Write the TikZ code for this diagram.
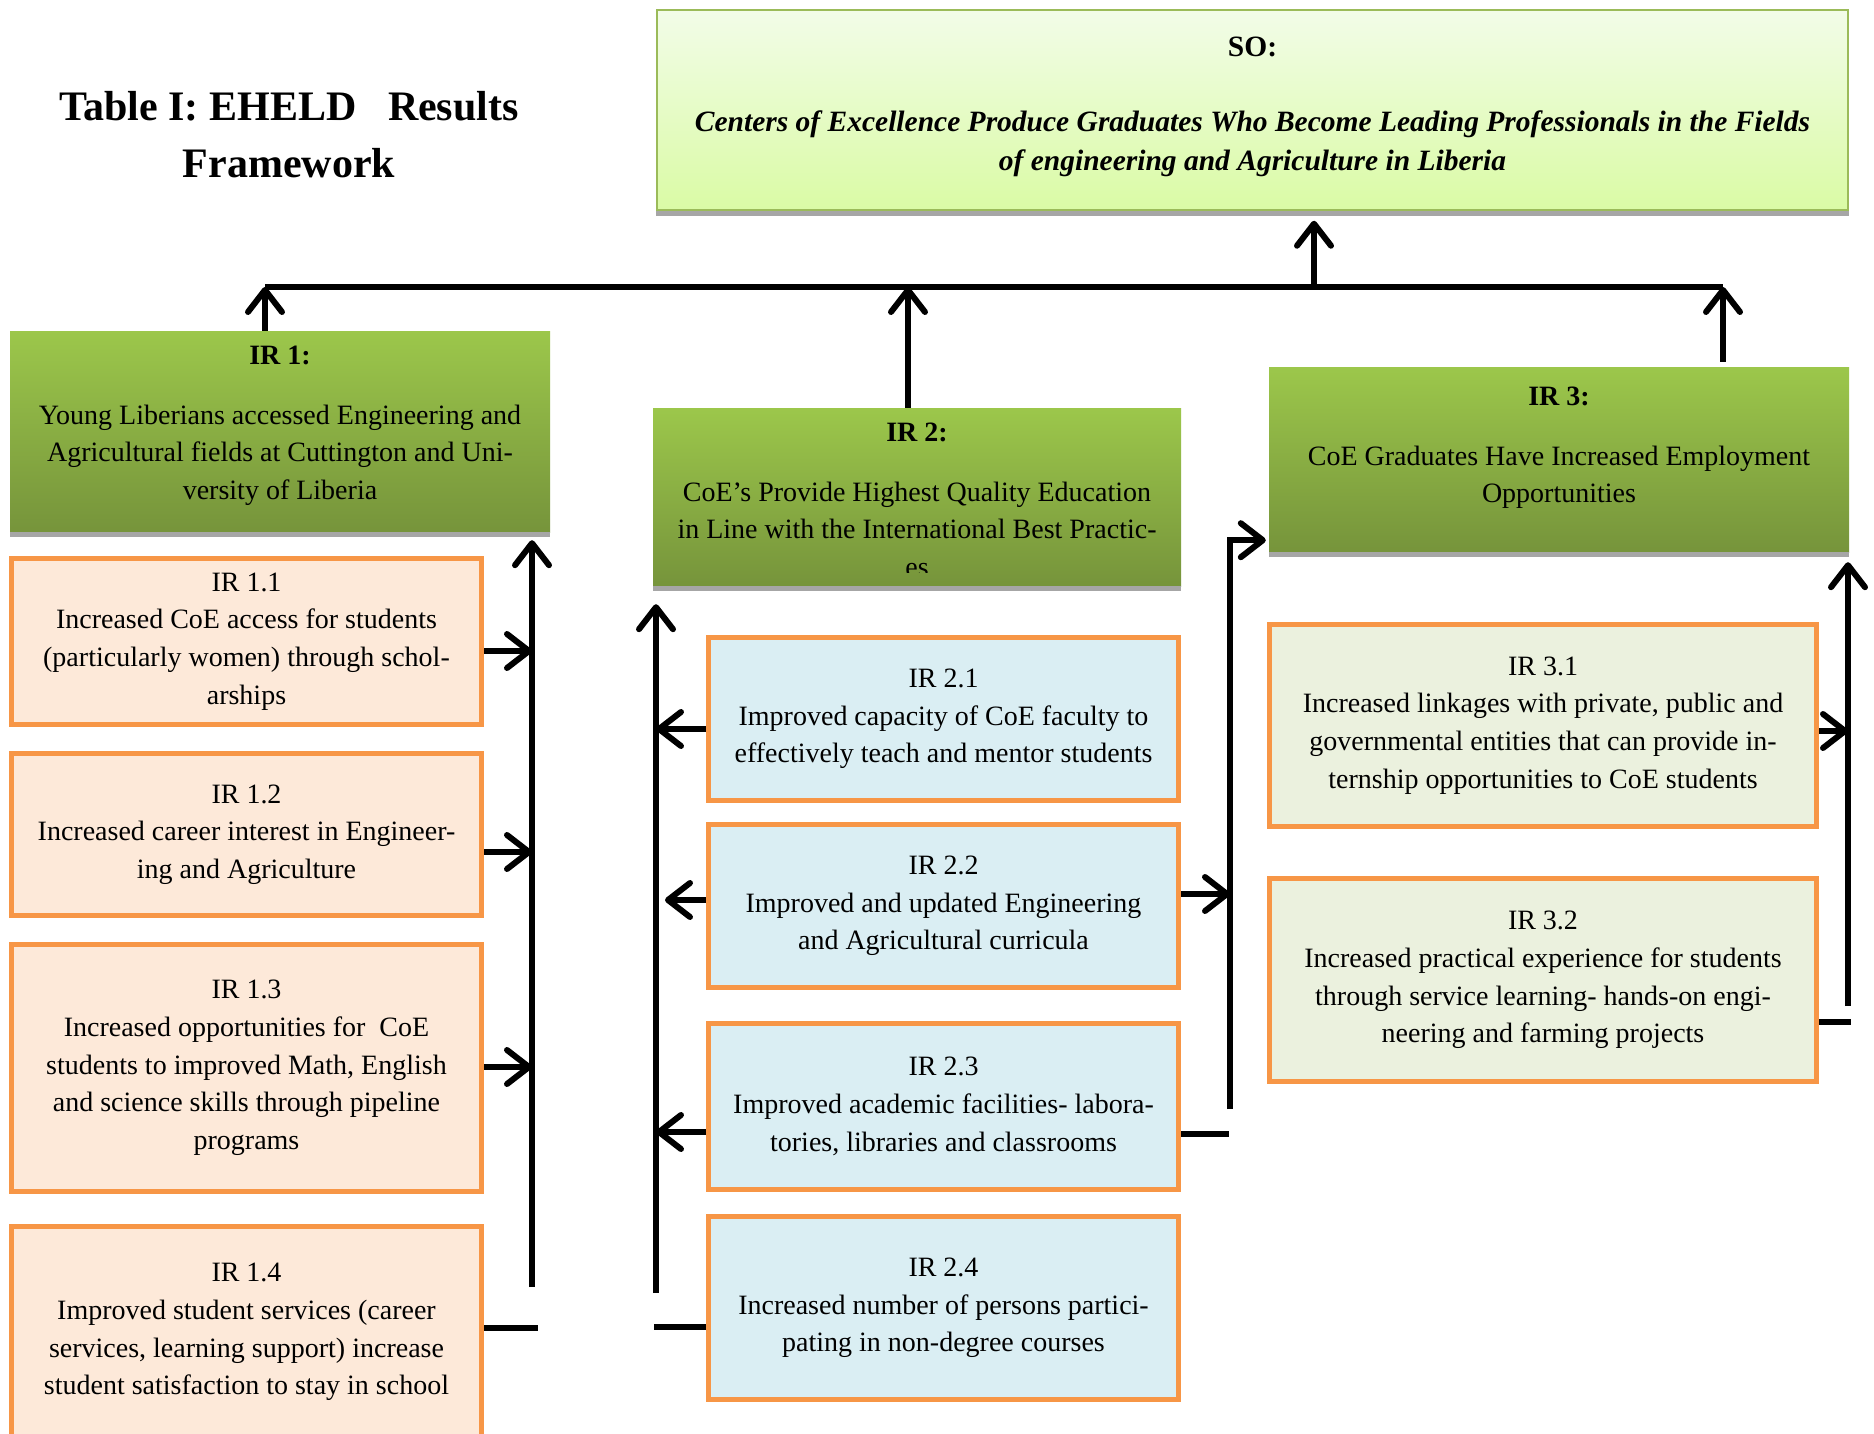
\documentclass[tikz,border=0pt]{standalone}
\usepackage{fontspec}
\setmainfont{Liberation Serif}
\usetikzlibrary{arrows.meta}
\definecolor{obrd}{HTML}{F79646}
\definecolor{peach}{HTML}{FDE9D9}
\definecolor{lblue}{HTML}{DAEEF3}
\definecolor{pgreen}{HTML}{EBF1DE}
\definecolor{htop}{HTML}{9CC74B}
\definecolor{hbot}{HTML}{76943B}
\definecolor{sotop}{HTML}{F2FCE8}
\definecolor{sobot}{HTML}{DAFBA5}
\definecolor{sobrd}{HTML}{9BBB59}
\definecolor{shad}{HTML}{A6A6A6}
\newcommand\bodyfnt{\fontsize{28}{37.7}\selectfont}
\newcommand\sofnt{\fontsize{29.5}{39}\selectfont}
\newcommand\titlefnt{\fontsize{42}{57}\selectfont\bfseries}
\begin{document}
\begin{tikzpicture}[x=1pt,y=-1pt,
  obox/.style={draw=obrd, line width=5pt, fill=peach, inner sep=0pt, align=center, font=\bodyfnt},
  bbox/.style={obox, fill=lblue},
  gbox/.style={obox, fill=pgreen},
  hbox/.style={top color=htop, bottom color=hbot, draw=none, inner sep=0pt},
  sobox/.style={top color=sotop, bottom color=sobot, draw=sobrd, line width=1.5pt, inner sep=0pt},
  htext/.style={anchor=north, inner sep=0pt, align=center, font=\bodyfnt},
  arr/.style={line width=6pt, -{Straight Barb[length=22pt,width=34pt,round]}},
  ln/.style={line width=6pt},
]
\fill[white] (0,0) rectangle (1874,1434);
\useasboundingbox (0,0) rectangle (1874,1434);

% title
\node[align=center, font=\titlefnt, inner sep=0pt] (title) at (289,135) {Table I: EHELD\ \ \ Results\\Framework};

% SO box
\node[sobox, minimum width=1191pt, minimum height=200pt] (so) at (1252.5,110) {};
\fill[shad] (so.south west) rectangle ([yshift=-5pt]so.south east);
\node[htext, font=\sofnt] (sot) at ([yshift=-28pt]so.north) {\textbf{SO:}\\[36pt]\textbf{\itshape Centers of Excellence Produce Graduates Who Become Leading Professionals in the Fields}\\\textbf{\itshape of engineering and Agriculture in Liberia}};

% IR headers
\node[hbox, minimum width=540pt, minimum height=201pt] (ir1) at (280,431.5) {};
\fill[shad] (ir1.south west) rectangle ([yshift=-5pt]ir1.south east);
\node[htext] (ir1t) at ([yshift=-15pt]ir1.north) {\textbf{IR 1:}\\[22pt]Young Liberians accessed Engineering and\\Agricultural fields at Cuttington and Uni-\\versity of Liberia};

\node[hbox, minimum width=528pt, minimum height=178pt] (ir2) at (917,497) {};
\fill[shad] (ir2.south west) rectangle ([yshift=-5pt]ir2.south east);
\begin{scope}
\clip (ir2.north west) rectangle ([yshift=14pt]ir2.south east);
\node[htext] (ir2t) at ([yshift=-15pt]ir2.north) {\textbf{IR 2:}\\[22pt]CoE’s Provide Highest Quality Education\\in Line with the International Best Practic-\\es};
\end{scope}

\node[hbox, minimum width=580pt, minimum height=185pt] (ir3) at (1559,459.5) {};
\fill[shad] (ir3.south west) rectangle ([yshift=-5pt]ir3.south east);
\node[htext] (ir3t) at ([yshift=-20pt]ir3.north) {\textbf{IR 3:}\\[22pt]CoE Graduates Have Increased Employment\\Opportunities};

% IR1.x
\node[obox, minimum width=470pt, minimum height=166pt] (ir11) at (246.5,641.5) {IR 1.1\\Increased CoE access for students\\(particularly women) through schol-\\arships};
\node[obox, minimum width=470pt, minimum height=162pt] (ir12) at (246.5,834.5) {IR 1.2\\Increased career interest in Engineer-\\ing and Agriculture};
\node[obox, minimum width=470pt, minimum height=247pt] (ir13) at (246.5,1068) {IR 1.3\\Increased opportunities for\ \ CoE\\students to improved Math, English\\and science skills through pipeline\\programs};
\node[obox, minimum width=470pt, minimum height=211pt] (ir14) at (246.5,1332) {IR 1.4\\Improved student services (career\\services, learning support) increase\\student satisfaction to stay in school};

% IR2.x
\node[bbox, minimum width=470pt, minimum height=163pt] (ir21) at (943.5,719) {IR 2.1\\Improved capacity of CoE faculty to\\effectively teach and mentor students};
\node[bbox, minimum width=470pt, minimum height=163pt] (ir22) at (943.5,906) {IR 2.2\\Improved and updated Engineering\\and Agricultural curricula};
\node[bbox, minimum width=470pt, minimum height=166pt] (ir23) at (943.5,1106.5) {IR 2.3\\Improved academic facilities- labora-\\tories, libraries and classrooms};
\node[bbox, minimum width=470pt, minimum height=183pt] (ir24) at (943.5,1308) {IR 2.4\\Increased number of persons partici-\\pating in non-degree courses};

% IR3.x
\node[gbox, minimum width=547pt, minimum height=202pt] (ir31) at (1543,725.5) {IR 3.1\\Increased linkages with private, public and\\governmental entities that can provide in-\\ternship opportunities to CoE students};
\node[gbox, minimum width=547pt, minimum height=203pt] (ir32) at (1543,980) {IR 3.2\\Increased practical experience for students\\through service learning- hands-on engi-\\neering and farming projects};

% bus to SO
\coordinate (busL) at (265,287);
\coordinate (busR) at (1723,287);
\coordinate (b0) at (1314,287);
\coordinate (b2) at (908,287);
\draw[ln] (busL) -- (busR);
\draw[arr, shorten >=10pt] (b0) -- (so.south -| b0);
\draw[arr] (ir1.north -| busL) -- (busL);
\draw[arr] (ir2.north -| b2) -- (b2);
\draw[arr, shorten <=5pt] (ir3.north -| busR) -- (busR);

% IR1 column
\coordinate (v1b) at (532,1287);
\draw[arr, shorten >=8pt] (v1b) -- (ir1.south -| v1b);
\coordinate (a11) at ([yshift=-9.5pt]ir11.east);
\coordinate (a12) at ([yshift=-17.5pt]ir12.east);
\coordinate (a13) at ([yshift=1pt]ir13.east);
\coordinate (a14) at ([yshift=4pt]ir14.east);
\draw[arr] (a11) -- (a11 -| v1b);
\draw[arr] (a12) -- (a12 -| v1b);
\draw[arr] (a13) -- (a13 -| v1b);
\coordinate (e14) at (538,1328);
\draw[ln] (a14) -- (e14);

% IR2 column
\coordinate (v2b) at (656,1293);
\draw[arr, shorten >=18pt] (v2b) -- (ir2.south -| v2b);
\coordinate (a21) at ([yshift=-10pt]ir21.west);
\coordinate (a22) at ([yshift=6pt]ir22.west);
\coordinate (a23) at ([yshift=-25.5pt]ir23.west);
\coordinate (a24) at ([yshift=-19pt]ir24.west);
\coordinate (t22) at (665,900);
\coordinate (e24) at (654,1327);
\draw[arr] (a21) -- (a21 -| v2b);
\draw[arr] (a22) -- (t22);
\draw[arr] (a23) -- (a23 -| v2b);
\draw[ln] (a24) -- (e24);

% IR2 -> IR3
\coordinate (v3b) at (1230,1109);
\coordinate (r22) at ([yshift=12pt]ir22.east);
\coordinate (r23) at ([yshift=-27.5pt]ir23.east);
\coordinate (e23) at (1229,1134);
\coordinate (c3) at ([yshift=12pt]ir3.south west);
\draw[arr] (r22) -- (r22 -| v3b);
\draw[ln] (r23) -- (e23);
\draw[arr, shorten >=3pt] (v3b) |- (c3);

% IR3 column
\coordinate (v4b) at (1848,1006);
\draw[arr, shorten >=10pt] (v4b) -- (ir3.south -| v4b);
\coordinate (a31) at ([yshift=-5.5pt]ir31.east);
\coordinate (a32) at ([yshift=-42pt]ir32.east);
\coordinate (e32) at (1851,1022);
\draw[arr] (a31) -- (a31 -| v4b);
\draw[ln] (a32) -- (e32);
\end{tikzpicture}
\end{document}
